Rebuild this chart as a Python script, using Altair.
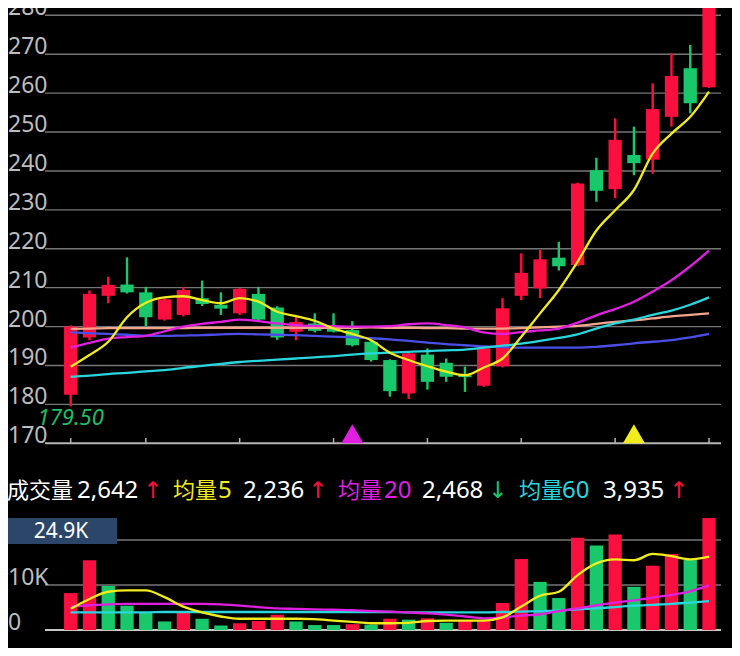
import altair as alt
import pandas as pd

# ---------------- data ----------------
idx = list(range(1, 36))
opens = [182.5, 197.2, 207.9, 210.8, 208.8, 201.8, 203.0, 207.3, 205.6, 203.4,
         208.4, 204.9, 198.7, 200.8, 200.0, 199.1, 196.1, 191.4, 182.8, 192.8,
         190.7, 187.5, 184.8, 189.8, 207.9, 209.8, 217.7, 215.8, 240.2, 235.3,
         244.1, 242.9, 253.9, 266.4, 261.5]
closes = [200.0, 208.4, 210.7, 208.8, 202.4, 207.0, 209.4, 205.8, 204.6, 209.7,
          201.8, 197.2, 201.2, 198.9, 198.7, 195.2, 191.4, 183.4, 193.1, 185.8,
          187.1, 187.0, 194.4, 204.7, 213.8, 217.3, 215.5, 236.8, 234.9, 248.0,
          242.0, 255.9, 264.4, 257.4, 282.9]
highs = [200.3, 209.3, 212.8, 217.8, 210.2, 207.3, 210.2, 211.8, 208.8, 209.9,
         210.2, 205.2, 202.5, 203.4, 203.4, 201.4, 196.5, 191.6, 193.3, 194.4,
         191.8, 189.7, 194.6, 207.3, 218.8, 219.7, 221.8, 237.0, 243.4, 253.5,
         251.4, 262.5, 270.2, 272.4, 283.0]
lows = [179.5, 196.5, 206.0, 208.5, 200.1, 201.5, 202.6, 205.3, 203.0, 203.0,
        201.5, 196.6, 196.5, 198.5, 198.5, 194.9, 191.0, 182.0, 181.4, 183.8,
        185.8, 183.2, 184.5, 189.5, 206.8, 207.3, 214.4, 215.5, 232.1, 233.0,
        238.9, 239.3, 251.4, 254.8, 261.3]

ma5 = [189.7, 192.7, 196.1, 202.4, 206.1, 207.5, 207.8, 206.8, 206.0, 207.3,
       206.4, 203.8, 202.7, 201.5, 199.5, 198.1, 196.5, 193.3, 191.4, 189.8,
       188.4, 187.5, 189.5, 191.8, 197.4, 203.4, 209.4, 216.7, 224.7, 229.9,
       235.1, 244.5, 249.6, 253.9, 260.4]
ma20 = [194.6, 195.8, 196.9, 197.3, 197.6, 198.8, 200.0, 200.7, 201.2, 201.8,
        201.4, 200.8, 200.4, 200.2, 200.1, 200.0, 200.0, 200.1, 200.6, 200.8,
        200.4, 199.8, 198.5, 198.1, 198.6, 199.0, 199.5, 201.0, 202.9, 204.5,
        206.4, 209.0, 211.9, 215.5, 219.5]
ma_blue = [198.5, 198.3, 198.1, 197.9, 197.7, 197.6, 197.7, 197.8, 198.0, 198.1,
           198.0, 197.9, 197.8, 197.6, 197.4, 197.2, 197.0, 196.7, 196.3, 195.9,
           195.5, 195.2, 194.9, 194.7, 194.6, 194.6, 194.6, 194.6, 194.8, 195.2,
           195.7, 196.1, 196.5, 197.2, 198.1]
ma60 = [187.1, 187.4, 187.8, 188.1, 188.5, 188.8, 189.4, 189.9, 190.4, 190.9,
        191.2, 191.5, 191.8, 192.1, 192.4, 192.8, 193.1, 193.3, 193.5, 193.7,
        193.9, 194.1, 194.6, 195.1, 195.6, 196.3, 197.1, 198.0, 199.5, 200.8,
        201.8, 203.0, 204.1, 205.6, 207.5]
ma_peach = [199.4, 199.5, 199.6, 199.6, 199.6, 199.6, 199.6, 199.7, 199.7, 199.7,
            199.7, 199.7, 199.7, 199.7, 199.7, 199.7, 199.8, 199.7, 199.7, 199.6,
            199.6, 199.5, 199.5, 199.5, 199.6, 199.8, 200.0, 200.2, 200.7, 201.2,
            201.6, 202.1, 202.6, 203.0, 203.4]

vol = [8.2, 15.5, 9.8, 5.4, 4.0, 1.9, 4.0, 2.5, 1.0, 1.5,
       2.0, 3.4, 1.9, 1.1, 1.1, 1.3, 1.2, 2.5, 2.3, 2.6,
       1.6, 2.0, 2.1, 6.0, 15.8, 10.7, 7.1, 20.5, 18.8, 21.2,
       9.6, 14.3, 16.9, 15.6, 24.9]
vol_dir = list("RRGGGGRGGRRRGGGRGRGRGRRRRGGRGRGRRGR")
vma5 = [4.7, 6.9, 8.5, 8.8, 8.8, 7.3, 5.2, 3.9, 3.0, 2.5,
        2.5, 2.5, 2.5, 2.4, 2.1, 1.8, 1.5, 1.5, 1.6, 2.0,
        2.1, 2.1, 2.1, 2.8, 5.2, 7.6, 8.5, 12.2, 14.8, 15.7,
        15.5, 16.9, 16.4, 15.7, 16.3]
vma20 = [5.2, 5.5, 5.7, 5.8, 5.8, 5.8, 5.8, 5.8, 5.7, 5.4,
         5.1, 4.8, 4.7, 4.6, 4.5, 4.4, 4.2, 4.1, 3.9, 3.7,
         3.4, 3.0, 2.6, 2.8, 3.2, 3.5, 4.2, 4.8, 5.5, 6.1,
         6.6, 7.2, 7.8, 8.6, 9.9]
vma60 = [3.9, 3.9, 3.9, 3.9, 3.9, 4.0, 4.0, 4.0, 4.0, 4.0,
         4.0, 4.0, 4.0, 4.0, 4.0, 4.0, 4.0, 4.0, 3.9, 3.9,
         3.9, 3.9, 3.9, 4.0, 4.1, 4.2, 4.3, 4.6, 4.8, 5.1,
         5.4, 5.6, 5.8, 6.1, 6.4]

price_ticks = [170, 180, 190, 200, 210, 220, 230, 240, 250, 260, 270, 280]
vol_grid = [10, 20]
vol_labels = ["0", "10K"]
vol_label_vals = [0, 10]
x_ticks = [1, 5, 10, 15, 20, 25, 30, 35]
markers = [16, 31]
marker_kind = ["ma20", "ma5"]

header = [
    ("成交量", "white", "cjk"), ("2,642", "white", "num"), ("↑", "up", "arrow"),
    ("均量", "ma5", "cjk"), ("5", "ma5", "num"), ("2,236", "white", "num"), ("↑", "up", "arrow"),
    ("均量", "ma20", "cjk"), ("20", "ma20", "num"), ("2,468", "white", "num"), ("↓", "down", "arrow"),
    ("均量", "ma60", "cjk"), ("60", "ma60", "num"), ("3,935", "white", "num"), ("↑", "up", "arrow"),
]

# ---------------- styles / layout ----------------
RED = "#fa0f3f"
GREEN = "#19c86a"
COL = {"white": "#ffffff", "up": RED, "down": GREEN, "ma5": "#f2ec1c",
       "ma20": "#e11fe0", "ma60": "#2ad6de", "blue": "#4b4fe8", "peach": "#f5a58c"}
header_x = [7, 77, 143, 173, 218, 243, 308, 338, 384, 422, 488, 519, 562, 603, 669]
PLOT_LEFT = 45
W, H = 676, 622
XDOM = [-0.369, 35.638]
PDOM = [122.02, 281.876]
VDOM = [0, 138.22]
GRID = "#767676"
LABEL = "#bdbdbd"
FONT = "Noto Sans"

xs = alt.Scale(domain=XDOM, nice=False, zero=False, padding=0)
ps = alt.Scale(domain=PDOM, nice=False, zero=False, padding=0)
vs = alt.Scale(domain=VDOM, nice=False, zero=False, padding=0)

def X(f="i"):
    return alt.X(f"{f}:Q", scale=xs, axis=None)

def YP(f):
    return alt.Y(f"{f}:Q", scale=ps, axis=None)

def YV(f):
    return alt.Y(f"{f}:Q", scale=vs, axis=None)

# ---------------- tables ----------------
cdf = pd.DataFrame({"i": idx, "open": opens, "close": closes, "high": highs, "low": lows})
cdf["col"] = [RED if c >= o else GREEN for o, c in zip(opens, closes)]

ma_df = pd.concat([
    pd.DataFrame({"i": idx, "v": s, "series": name})
    for name, s in [("peach", ma_peach), ("blue", ma_blue), ("ma60", ma60), ("ma20", ma20), ("ma5", ma5)]
])

vdf = pd.DataFrame({"i": idx, "vol": vol})
vdf["col"] = [RED if d == "R" else GREEN for d in vol_dir]

vma_df = pd.concat([
    pd.DataFrame({"i": idx, "v": s, "series": name})
    for name, s in [("ma60", vma60), ("ma20", vma20), ("ma5", vma5)]
])

series_scale = alt.Scale(domain=["peach", "blue", "ma60", "ma20", "ma5"],
                         range=[COL["peach"], COL["blue"], COL["ma60"], COL["ma20"], COL["ma5"]])

# ---------------- layers ----------------
pgrid = alt.Chart(pd.DataFrame({"v": price_ticks[1:]})).mark_rule(
    color=GRID, strokeWidth=1.4).encode(y=YP("v"))
pbase = alt.Chart(pd.DataFrame({"v": price_ticks[:1]})).mark_rule(
    color="#b4b4b4", strokeWidth=2).encode(y=YP("v"))
xtick = alt.Chart(pd.DataFrame({"i": x_ticks})).mark_rule(
    color="#b4b4b4", strokeWidth=1.5).encode(
    x=X(), y=alt.Y(datum=price_ticks[0], scale=ps, axis=None), y2=alt.Y2(datum=price_ticks[0] + 1.35))
plabels = alt.Chart(pd.DataFrame({"v": price_ticks, "t": [str(v) for v in price_ticks]})).mark_text(
    align="left", baseline="alphabetic", font=FONT, fontSize=23, color=LABEL).encode(
    x=alt.value(-37), y=YP("v"), text="t:N")

vgrid = alt.Chart(pd.DataFrame({"v": vol_grid})).mark_rule(
    color=GRID, strokeWidth=1.4).encode(y=YV("v"))
vbase = alt.Chart(pd.DataFrame({"v": [0]})).mark_rule(
    color="#c8c8c8", strokeWidth=2).encode(y=YV("v"))
vlabels = alt.Chart(pd.DataFrame({"v": vol_label_vals, "t": vol_labels})).mark_text(
    align="left", baseline="alphabetic", font=FONT, fontSize=23, color=LABEL).encode(
    x=alt.value(-37), y=YV("v"), text="t:N")

wick = alt.Chart(cdf).mark_rule(strokeWidth=2.4).encode(
    x=X(), y=YP("low"), y2="high:Q", color=alt.Color("col:N", scale=None))
body = alt.Chart(cdf).mark_bar(size=13.3).encode(
    x=X(), y=YP("open"), y2="close:Q", color=alt.Color("col:N", scale=None))

ma_lines = alt.Chart(ma_df).mark_line(strokeWidth=2.3, interpolate="monotone").encode(
    x=X(), y=YP("v"), color=alt.Color("series:N", scale=series_scale, legend=None))

mk = alt.Chart(pd.DataFrame({"i": markers, "c": [COL[k] for k in marker_kind]})).mark_point(
    shape="triangle-up", filled=True, size=484, opacity=1, yOffset=-9.5).encode(
    x=X(), y=alt.Y(datum=price_ticks[0], scale=ps, axis=None), color=alt.Color("c:N", scale=None))

imin = lows.index(min(lows))
low_lbl = alt.Chart(pd.DataFrame({"i": [idx[imin]], "v": [lows[imin]], "t": [f"{lows[imin]:.2f}"]})).mark_text(
    align="center", baseline="alphabetic", dy=19, font=FONT, fontSize=22, fontStyle="italic",
    color="#1fbf63").encode(x=X(), y=YP("v"), text="t:N")

vbars = alt.Chart(vdf).mark_bar(size=13.3).encode(
    x=X(), y=YV("vol"), color=alt.Color("col:N", scale=None))
vma_lines = alt.Chart(vma_df).mark_line(strokeWidth=2.3, interpolate="monotone").encode(
    x=X(), y=YV("v"), color=alt.Color("series:N", scale=series_scale, legend=None))

vmax = max(vol)
box = alt.Chart(pd.DataFrame({"a": [0]})).mark_rect(color="#2b4668").encode(
    x=alt.value(-41), x2=alt.value(72), y=alt.value(510), y2=alt.value(536))
box_txt = alt.Chart(pd.DataFrame({"t": [f"{vmax:.1f}K"]})).mark_text(
    align="center", baseline="middle", font=FONT, fontSize=21, color="white").encode(
    x=alt.value(16), y=alt.value(524), text="t:N")

hdf = pd.DataFrame({
    "t": [h[0] for h in header],
    "c": [COL[h[1]] for h in header],
    "kind": [h[2] for h in header],
    "px": [x - PLOT_LEFT for x in header_x],
})

def header_layer(kind, font, size):
    return alt.Chart(hdf[hdf.kind == kind]).mark_text(
        align="left", baseline="alphabetic", font=font, fontSize=size).encode(
        x=alt.X("px:Q", scale=None), y=alt.value(490), text="t:N",
        color=alt.Color("c:N", scale=None))

h1 = header_layer("cjk", "Noto Sans CJK SC", 22)
h2 = header_layer("num", FONT, 24)
h3 = header_layer("arrow", "DejaVu Sans", 23)

chart = alt.layer(
    pgrid, pbase, xtick, plabels, vgrid, vbase, vlabels,
    wick, body, ma_lines, mk, low_lbl,
    vbars, vma_lines, box, box_txt, h1, h2, h3,
).resolve_scale(y="independent", color="independent").properties(
    width=W, height=H,
    autosize=alt.AutoSizeParams(type="none"),
    padding={"left": 37, "top": 0, "right": 11, "bottom": 18},
    background="black",
).configure_view(stroke=None)

chart.save("out.html", embed_options={"renderer": "svg", "actions": False})
